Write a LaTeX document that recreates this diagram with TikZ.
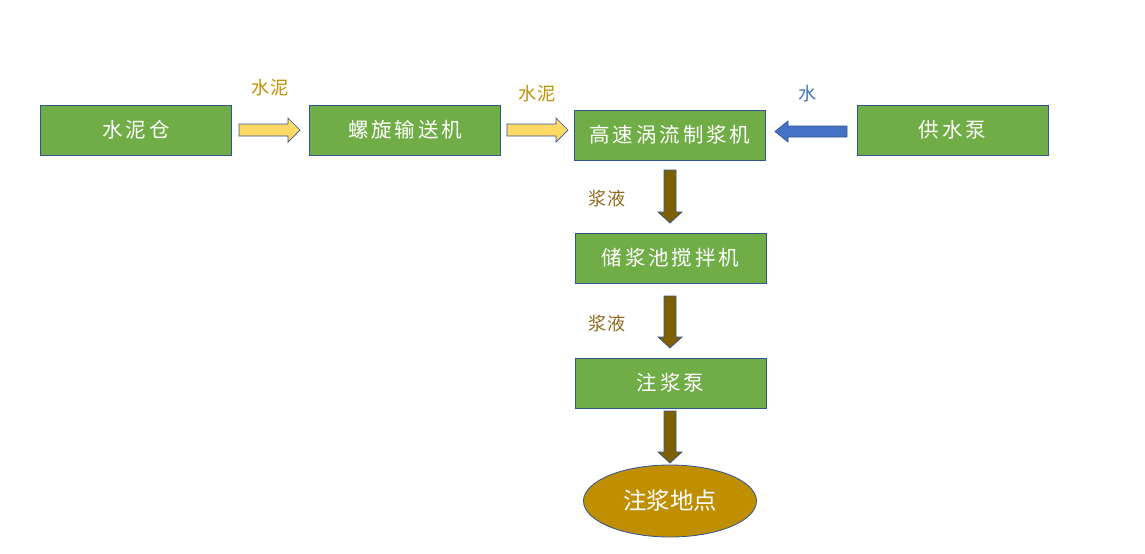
\documentclass[tikz,border=0pt]{standalone}
\usepackage{fontspec}
\newfontfamily\cjk{Noto Sans CJK SC}
\newfontfamily\cjkwide[LetterSpace=14]{Noto Sans CJK SC}
\newfontfamily\cjklbl[LetterSpace=7]{Noto Sans CJK SC}
\usetikzlibrary{shapes.geometric}
\definecolor{boxgreen}{HTML}{70AD47}
\definecolor{edgeblue}{HTML}{2F5597}
\definecolor{arrowyellow}{HTML}{FFD966}
\definecolor{arrowblue}{HTML}{4472C4}
\definecolor{arrowbrown}{HTML}{7F6000}
\definecolor{labelgold}{HTML}{BF9000}
\definecolor{labelbrown}{HTML}{8B6A1E}
\definecolor{ellgold}{HTML}{BF8F00}
\begin{document}
\begin{tikzpicture}[x=0.03cm,y=-0.03cm,
  procbox/.style={draw=edgeblue,line width=0.7pt,fill=boxgreen,minimum width=191*0.03cm,minimum height=50*0.03cm,inner sep=0pt,text=white,font=\cjkwide\fontsize{17.5}{20}\selectfont},
  endell/.style={ellipse,draw=edgeblue,line width=0.7pt,fill=ellgold,minimum width=173*0.03cm,minimum height=72*0.03cm,inner sep=0pt,text=white,font=\cjk\fontsize{20}{24}\selectfont},
  lbl/.style={font=\cjklbl\fontsize{15.5}{18}\selectfont,inner sep=0pt},
  blockarrow/.style={draw=edgeblue,line width=0.6pt,line join=miter}
]
\useasboundingbox (0,0) rectangle (1145,553);
\node[procbox] (silo) at (136,130) {水泥仓};
\node[procbox] (screw) at (405,130) {螺旋输送机};
\node[procbox] (mixer) at (670,135) {高速涡流制浆机};
\node[procbox] (pump) at (952.5,130) {供水泵};
\node[procbox] (tank) at (670.5,258) {储浆池搅拌机};
\node[procbox] (grout) at (670.5,383) {注浆泵};
\node[endell] (site) at (670,501) {注浆地点};

% yellow arrows
\filldraw[blockarrow,fill=arrowyellow] (239,124) -- (288,124) -- (288,118) -- (300,130) -- (288,142) -- (288,136) -- (239,136) -- cycle;
\filldraw[blockarrow,fill=arrowyellow] (507,124) -- (556,124) -- (556,118) -- (568,130) -- (556,142) -- (556,136) -- (507,136) -- cycle;
% blue arrow
\filldraw[blockarrow,fill=arrowblue] (847,126) -- (788,126) -- (788,121) -- (775,131.5) -- (788,142) -- (788,137) -- (847,137) -- cycle;
% brown arrows
\foreach \ya/\yb in {170/223, 296/348, 411/463}{
  \filldraw[blockarrow,fill=arrowbrown] (664,\ya) -- (676,\ya) -- (676,\yb-11) -- (682,\yb-11) -- (670,\yb) -- (658,\yb-11) -- (664,\yb-11) -- cycle;
}

\node[lbl,text=labelgold] (l1) at (270,88) {水泥};
\node[lbl,text=labelgold] (l2) at (537,94) {水泥};
\node[lbl,text=arrowblue] (l3) at (808,94) {水};
\node[lbl,text=labelbrown] (l4) at (607,199) {浆液};
\node[lbl,text=labelbrown] (l5) at (607,324) {浆液};
\end{tikzpicture}
\end{document}
